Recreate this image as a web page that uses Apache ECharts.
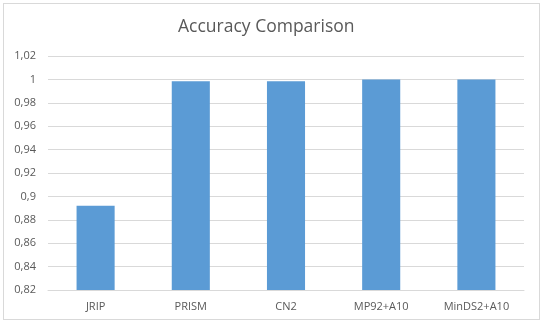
<!DOCTYPE html>
<html>
<head>
<meta charset="utf-8">
<script src="https://cdn.jsdelivr.net/npm/echarts@6/dist/echarts.min.js"></script>
<style>
  html, body { margin: 0; padding: 0; background: #fff; }
  #frame { position: absolute; left: 3px; top: 3px; width: 535px; height: 315px; border: 1px solid #d9d9d9; }
  #myChart { position: absolute; left: 0; top: 0; width: 542px; height: 323px; }
</style>
</head>
<body>
<div id="frame"></div>
<div id="myChart"></div>
<script>
// data
var categories = ['JRIP', 'PRISM', 'CN2', 'MP92+A10', 'MinDS2+A10'];
var accuracy = [0.892, 0.9985, 0.9985, 1.0, 1.0];

var myChart = echarts.init(document.getElementById('myChart'));
myChart.setOption({
    animation: false,
    title: {
        text: 'Accuracy Comparison',
        left: 173,
        top: 13,
        textStyle: {
            color: '#595959',
            fontSize: 17.5,
            fontWeight: 'normal',
            fontFamily: 'Open Sans'
        }
    },
    grid: {
        left: 48,
        right: 18,
        top: 56,
        bottom: 33
    },
    xAxis: {
        type: 'category',
        data: categories,
        axisLine: { lineStyle: { color: '#d9d9d9' } },
        axisTick: { show: false },
        axisLabel: {
            color: '#595959',
            fontSize: 11,
            margin: 11,
            fontFamily: 'Open Sans'
        }
    },
    yAxis: {
        type: 'value',
        min: 0.82,
        max: 1.02,
        interval: 0.02,
        axisLine: { show: false },
        axisTick: { show: false },
        splitLine: { lineStyle: { color: '#d9d9d9' } },
        axisLabel: {
            color: '#595959',
            fontSize: 11,
            margin: 12,
            fontFamily: 'Open Sans',
            formatter: function (v) {
                return String(parseFloat(v.toFixed(2))).replace('.', ',');
            }
        }
    },
    series: [{
        type: 'bar',
        data: accuracy,
        barWidth: '40%',
        itemStyle: { color: '#5b9bd5' }
    }]
});
</script>
</body>
</html>
